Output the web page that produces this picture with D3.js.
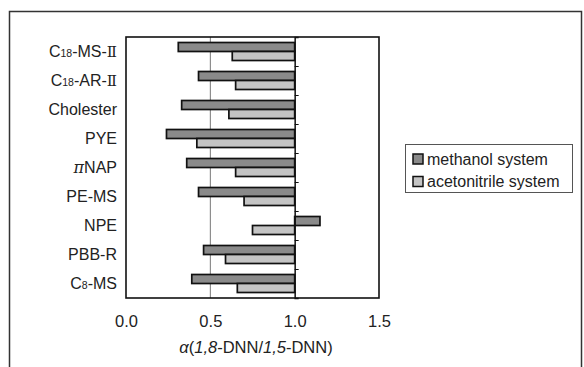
<!DOCTYPE html>
<html>
<head>
<meta charset="utf-8">
<script src="https://cdn.jsdelivr.net/npm/d3@7"></script>
<style>
  body { margin: 0; background: #fff; }
  svg { display: block; font-family: "Liberation Sans", Arial, sans-serif; }
</style>
</head>
<body>
<div id="chart"></div>
<script>
// data, top to bottom as shown
var categories = ["C18-MS-Ⅱ", "C18-AR-Ⅱ", "Cholester", "PYE", "πNAP", "PE-MS", "NPE", "PBB-R", "C8-MS"];
var methanol = [0.31, 0.43, 0.33, 0.24, 0.36, 0.43, 1.15, 0.46, 0.39];
var acetonitrile = [0.63, 0.65, 0.61, 0.42, 0.65, 0.70, 0.75, 0.59, 0.66];
var seriesNames = ["methanol system", "acetonitrile system"];
var seriesColors = ["#8a8a8a", "#c4c4c4"];
var xTicks = [0, 0.5, 1.0, 1.5];

var width = 584, height = 367;
var margin = {top: 37, left: 126};
var plotW = 253, plotH = 261;

var svg = d3.select("#chart").append("svg")
    .attr("width", width)
    .attr("height", height);

// outer frame
svg.append("rect")
    .attr("x", 9.5).attr("y", 11.5)
    .attr("width", 572).attr("height", 370)
    .attr("fill", "none")
    .attr("stroke", "#333")
    .attr("stroke-width", 1.5);

var g = svg.append("g")
    .attr("transform", "translate(" + margin.left + "," + margin.top + ")");

var x = d3.scaleLinear().domain([0, 1.5]).range([0, plotW]);
var y = d3.scaleBand().domain(categories).range([0, plotH]).paddingInner(0).paddingOuter(0);
var barH = 9;

// gridline at 0.5
g.append("line")
    .attr("x1", x(0.5)).attr("x2", x(0.5))
    .attr("y1", 0).attr("y2", plotH)
    .attr("stroke", "#777").attr("stroke-width", 1);

// bars
var rows = categories.map(function(c, i) { return {cat: c, m: methanol[i], a: acetonitrile[i]}; });
[["m", 0], ["a", 1]].forEach(function(s) {
    g.selectAll(".bar" + s[0])
        .data(rows)
        .enter()
        .append("rect")
            .attr("x", function(d) { return x(Math.min(1, d[s[0]])); })
            .attr("y", function(d) { return y(d.cat) + y.bandwidth() / 2 - barH + s[1] * barH; })
            .attr("width", function(d) { return Math.abs(x(d[s[0]]) - x(1)); })
            .attr("height", barH)
            .attr("fill", seriesColors[s[1]])
            .attr("stroke", "#111")
            .attr("stroke-width", 1.7);
});

// category axis sits at 1.0, ticks between categories
var yTick = d3.scaleLinear().domain([0, categories.length]).range([0, plotH]);
var yAxis = g.append("g")
    .attr("transform", "translate(" + x(1) + ",0)")
    .call(d3.axisRight(yTick).tickValues(d3.range(1, categories.length)).tickSize(4).tickFormat(""));
yAxis.select(".domain").attr("stroke", "#111").attr("stroke-width", 1.5);
yAxis.selectAll(".tick line").attr("stroke", "#111");

// plot frame
g.append("rect")
    .attr("width", plotW).attr("height", plotH)
    .attr("fill", "none")
    .attr("stroke", "#111")
    .attr("stroke-width", 1.6);

// category labels
var labels = g.append("g")
    .call(d3.axisLeft(y).tickSize(0).tickPadding(9));
labels.select(".domain").remove();
labels.selectAll(".tick text")
    .attr("font-size", 16)
    .attr("fill", "#222")
    .text(null)
    .each(function(d) {
        var t = d3.select(this);
        var m = d.match(/^C(\d+)(.*)$/);
        var rest = d;
        if (m) {
            t.append("tspan").text("C");
            t.append("tspan").attr("font-size", 10.5).text(m[1]);
            rest = m[2];
        } else if (d[0] === "π") {
            t.append("tspan").attr("font-style", "italic").attr("font-family", "DejaVu Serif").text("π");
            rest = d.slice(1);
        }
        if (rest.indexOf("Ⅱ") >= 0) {
            t.append("tspan").text(rest.replace("Ⅱ", ""));
            t.append("tspan").attr("font-family", "DejaVu Serif").attr("font-size", 15).text("Ⅱ");
        } else {
            t.append("tspan").text(rest);
        }
    });

// x axis labels
var xAxis = g.append("g")
    .attr("transform", "translate(0," + plotH + ")")
    .call(d3.axisBottom(x).tickValues(xTicks).tickSize(0).tickPadding(17).tickFormat(d3.format(".1f")));
xAxis.select(".domain").remove();
xAxis.selectAll(".tick text").attr("font-size", 16.5).attr("fill", "#222");

// axis title
var title = svg.append("text")
    .attr("x", 256).attr("y", 353)
    .attr("text-anchor", "middle")
    .attr("font-size", 16.5)
    .attr("fill", "#222");
title.append("tspan").attr("font-style", "italic").text("α");
title.append("tspan").text("(");
title.append("tspan").attr("font-style", "italic").text("1,8");
title.append("tspan").text("-DNN/");
title.append("tspan").attr("font-style", "italic").text("1,5");
title.append("tspan").text("-DNN)");

// legend
var legend = svg.append("g").attr("transform", "translate(405,144)");
legend.append("rect")
    .attr("x", 0.5).attr("y", 0.5)
    .attr("width", 167).attr("height", 48)
    .attr("fill", "#fff")
    .attr("stroke", "#555");
seriesNames.forEach(function(name, i) {
    var row = legend.append("g").attr("transform", "translate(0," + (15 + i * 22.5) + ")");
    row.append("rect")
        .attr("x", 8).attr("y", -5)
        .attr("width", 10).attr("height", 10)
        .attr("fill", seriesColors[i])
        .attr("stroke", "#111")
        .attr("stroke-width", 1.5);
    row.append("text")
        .attr("x", 22).attr("y", 5.5)
        .attr("font-size", 16)
        .attr("fill", "#222")
        .text(name);
});
</script>
</body>
</html>
